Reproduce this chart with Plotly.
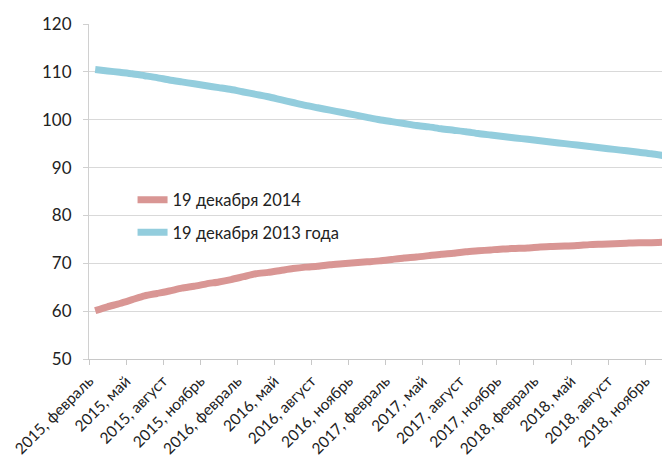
import plotly.graph_objects as go

# Monthly observations, February 2015 through December 2018 (one value per month)
months = [
    "2015-02", "2015-03", "2015-04", "2015-05", "2015-06", "2015-07", "2015-08", "2015-09",
    "2015-10", "2015-11", "2015-12", "2016-01", "2016-02", "2016-03", "2016-04", "2016-05",
    "2016-06", "2016-07", "2016-08", "2016-09", "2016-10", "2016-11", "2016-12", "2017-01",
    "2017-02", "2017-03", "2017-04", "2017-05", "2017-06", "2017-07", "2017-08", "2017-09",
    "2017-10", "2017-11", "2017-12", "2018-01", "2018-02", "2018-03", "2018-04", "2018-05",
    "2018-06", "2018-07", "2018-08", "2018-09", "2018-10", "2018-11", "2018-12",
]

curve_2014 = [
    60.1, 60.9, 61.6, 62.4, 63.2, 63.7, 64.2, 64.8, 65.2, 65.7, 66.1, 66.6,
    67.2, 67.8, 68.1, 68.5, 68.9, 69.2, 69.4, 69.7, 69.9, 70.1, 70.3, 70.5,
    70.8, 71.1, 71.3, 71.6, 71.9, 72.1, 72.4, 72.6, 72.8, 73.0, 73.1, 73.2,
    73.4, 73.5, 73.6, 73.7, 73.9, 74.0, 74.1, 74.2, 74.3, 74.3, 74.4,
]

curve_2013 = [
    110.5, 110.2, 109.9, 109.6, 109.2, 108.8, 108.3, 107.9, 107.5, 107.1, 106.7, 106.3,
    105.8, 105.3, 104.8, 104.2, 103.6, 103.0, 102.5, 102.0, 101.5, 101.0, 100.5, 100.0,
    99.6, 99.2, 98.8, 98.5, 98.1, 97.8, 97.5, 97.1, 96.8, 96.5, 96.2, 95.9,
    95.6, 95.3, 95.0, 94.7, 94.4, 94.1, 93.8, 93.5, 93.2, 92.9, 92.5,
]

tick_labels = [
    "2015, февраль", "2015, май", "2015, август", "2015, ноябрь",
    "2016, февраль", "2016, май", "2016, август", "2016, ноябрь",
    "2017, февраль", "2017, май", "2017, август", "2017, ноябрь",
    "2018, февраль", "2018, май", "2018, август", "2018, ноябрь",
]

series_names = ["19 декабря 2014", "19 декабря 2013 года"]
series_colors = ["#D99694", "#93CDDD"]

# Month index measured from the start of February 2015; each value sits mid-month
x_pos = [i + 0.5 for i in range(len(months))]
tick_pos = [3 * i for i in range(len(tick_labels))]

FONT = "Lato"

fig = go.Figure()
for name, values, color, group in zip(series_names, [curve_2014, curve_2013], series_colors, ["a", "b"]):
    fig.add_trace(go.Scatter(
        x=x_pos, y=values, name=name, mode="lines",
        line=dict(color=color, width=7, shape="spline", smoothing=0.6),
        legendgroup=group, hoverinfo="skip",
    ))

fig.update_layout(
    width=662, height=459,
    margin=dict(l=89, r=0, t=24, b=100),
    plot_bgcolor="white", paper_bgcolor="white",
    font=dict(family=FONT, size=16, color="#222222"),
    showlegend=True,
    legend=dict(
        x=0.076, y=0.527, xanchor="left", yanchor="top",
        bgcolor="rgba(0,0,0,0)", borderwidth=0,
        font=dict(family=FONT, size=16.5, color="#222222"),
        tracegroupgap=8,
    ),
)

fig.update_xaxes(
    range=[0, 46.36],
    tickmode="array", tickvals=tick_pos, ticktext=tick_labels,
    tickangle=-45,
    ticks="outside", ticklen=5, tickcolor="#C8C8C8",
    showline=True, linecolor="#C8C8C8", linewidth=1,
    showgrid=False, zeroline=False,
    automargin=False,
    ticklabelstandoff=1,
    tickfont=dict(family=FONT, size=15.5, color="#222222"),
)

fig.update_yaxes(
    range=[50, 120], dtick=10,
    ticks="outside", ticklen=5, tickcolor="#D0D0D0",
    showline=True, linecolor="#D0D0D0", linewidth=1,
    showgrid=True, gridcolor="#D9D9D9", gridwidth=1,
    zeroline=False,
    automargin=False,
    ticklabelstandoff=8,
    tickfont=dict(family=FONT, size=17, color="#222222"),
)

fig.write_html("out.html")
